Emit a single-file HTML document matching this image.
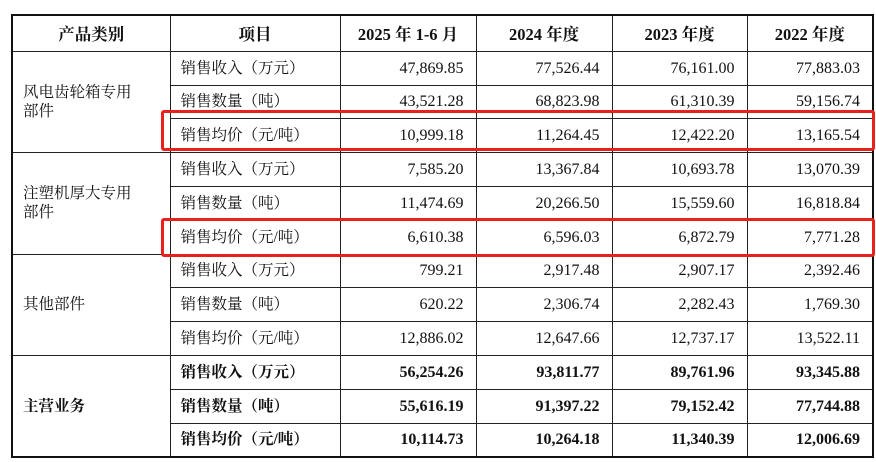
<!DOCTYPE html>
<html><head><meta charset="utf-8"><style>
body{margin:0;width:876px;height:462px;background:#fff;overflow:hidden;position:relative;font-family:"Liberation Serif","Noto Serif CJK SC",serif;color:#111}
table{position:absolute;left:11px;top:14px;border-collapse:collapse;table-layout:fixed;border:2.5px solid #111}
td{border:1px solid #222;height:32.8px;padding:0 10px;font-size:15.5px;white-space:nowrap;line-height:19px}
td.n{text-align:right;padding-right:12px;font-size:16px}
th{border:1px solid #222;height:32.8px;font-size:16.5px;font-weight:bold}
.b td{font-weight:bold}
.g{padding-left:10px;font-size:15.5px}
.box{position:absolute;border:3px solid #e8211f;border-radius:3px;left:161px;width:708px}
</style></head><body>
<table>
<colgroup><col style="width:158px"><col style="width:170px"><col style="width:136px"><col style="width:136px"><col style="width:135px"><col style="width:126px"></colgroup>
<tr><th>产品类别</th><th>项目</th><th>2025 年 1-6 月</th><th>2024 年度</th><th>2023 年度</th><th>2022 年度</th></tr>
<tr><td rowspan="3" class="g">风电齿轮箱专用<br>部件</td><td>销售收入（万元）</td><td class="n">47,869.85</td><td class="n">77,526.44</td><td class="n">76,161.00</td><td class="n">77,883.03</td></tr>
<tr><td>销售数量（吨）</td><td class="n">43,521.28</td><td class="n">68,823.98</td><td class="n">61,310.39</td><td class="n">59,156.74</td></tr>
<tr><td>销售均价（元/吨）</td><td class="n">10,999.18</td><td class="n">11,264.45</td><td class="n">12,422.20</td><td class="n">13,165.54</td></tr>
<tr><td rowspan="3" class="g">注塑机厚大专用<br>部件</td><td>销售收入（万元）</td><td class="n">7,585.20</td><td class="n">13,367.84</td><td class="n">10,693.78</td><td class="n">13,070.39</td></tr>
<tr><td>销售数量（吨）</td><td class="n">11,474.69</td><td class="n">20,266.50</td><td class="n">15,559.60</td><td class="n">16,818.84</td></tr>
<tr><td>销售均价（元/吨）</td><td class="n">6,610.38</td><td class="n">6,596.03</td><td class="n">6,872.79</td><td class="n">7,771.28</td></tr>
<tr><td rowspan="3" class="g">其他部件</td><td>销售收入（万元）</td><td class="n">799.21</td><td class="n">2,917.48</td><td class="n">2,907.17</td><td class="n">2,392.46</td></tr>
<tr><td>销售数量（吨）</td><td class="n">620.22</td><td class="n">2,306.74</td><td class="n">2,282.43</td><td class="n">1,769.30</td></tr>
<tr><td>销售均价（元/吨）</td><td class="n">12,886.02</td><td class="n">12,647.66</td><td class="n">12,737.17</td><td class="n">13,522.11</td></tr>
<tr class="b"><td rowspan="3" class="g">主营业务</td><td>销售收入（万元）</td><td class="n">56,254.26</td><td class="n">93,811.77</td><td class="n">89,761.96</td><td class="n">93,345.88</td></tr>
<tr class="b"><td>销售数量（吨）</td><td class="n">55,616.19</td><td class="n">91,397.22</td><td class="n">79,152.42</td><td class="n">77,744.88</td></tr>
<tr class="b"><td>销售均价（元/吨）</td><td class="n">10,114.73</td><td class="n">10,264.18</td><td class="n">11,340.39</td><td class="n">12,006.69</td></tr>
</table>
<div class="box" style="top:110px;height:35px"></div>
<div class="box" style="top:218px;height:33px"></div>
</body></html>
